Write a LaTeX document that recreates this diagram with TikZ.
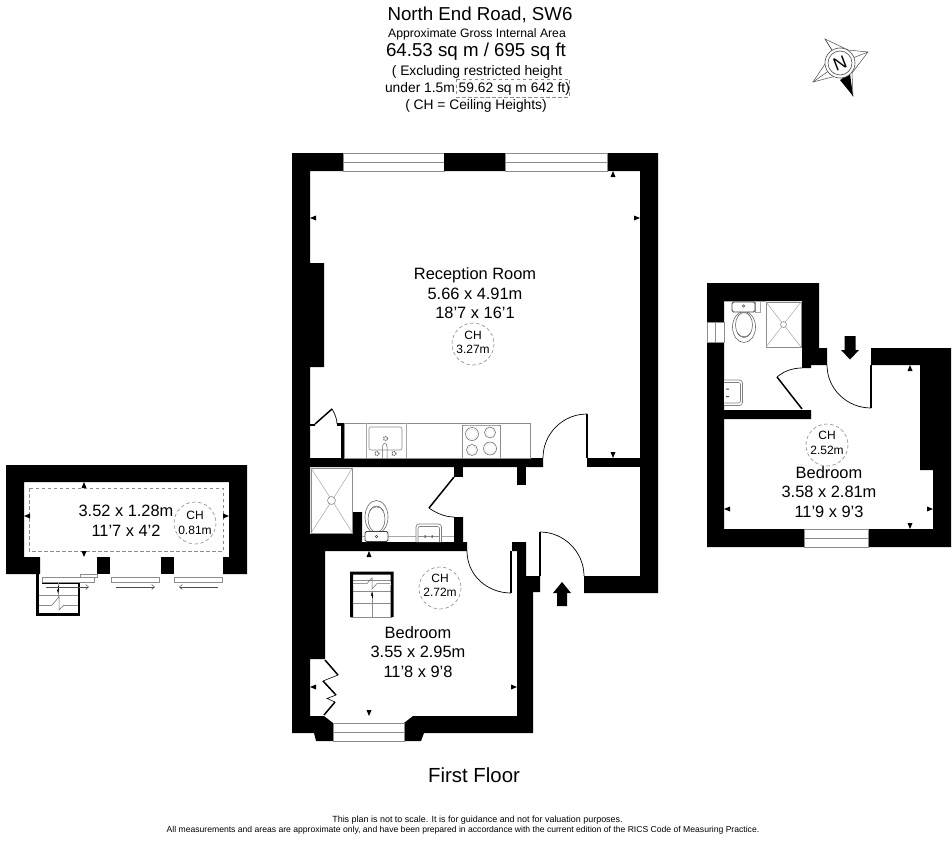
\documentclass[tikz,border=0pt]{standalone}
\usepackage{fontspec}
\usetikzlibrary{arrows.meta}
\setmainfont{Liberation Sans}
\tikzset{
  wall/.style={fill=black,draw=none},
  fixture/.style={draw=black!45,line width=0.6pt,fill=white},
  fixlight/.style={draw=black!35,line width=0.5pt},
  glass/.style={draw=black!45,line width=0.6pt,fill=white},
  swing/.style={draw=black,line width=0.7pt},
  leaf/.style={draw=black,line width=1.5pt},
  thin stroke/.style={draw=black,line width=0.6pt},
  ceil/.style={draw=black!45,line width=0.6pt,dash pattern=on 3.5pt off 2.5pt},
  room/.style={anchor=base,inner sep=0pt,font=\fontsize{16.4}{16.4}\selectfont},
  chtxt/.style={anchor=base,inner sep=0pt,font=\fontsize{12}{12}\selectfont},
  big/.style={anchor=base,inner sep=0pt,font=\fontsize{18.7}{18.7}\selectfont},
  mid/.style={anchor=base,inner sep=0pt,font=\fontsize{13.8}{13.8}\selectfont},
  small/.style={anchor=base,inner sep=0pt,font=\fontsize{12.2}{12.2}\selectfont},
}
% tiny dimension tick: triangle with its tip at #1,#2, opening in direction dx=#3, dy=#4
\newcommand{\tick}[4]{\fill[black] (#1,#2) -- ++({(#3)*6+(#4)*2.5},{(#4)*6+(#3)*2.5}) -- ++({-(#4)*5},{-(#3)*5}) -- cycle;}
\newcommand{\wrect}[4]{\fill[wall] (#1,#2) rectangle (#3,#4);}
\begin{document}
\begin{tikzpicture}[x=1pt,y=-1pt]
\useasboundingbox (0,0) rectangle (952,840);
\fill[white] (0,0) rectangle (952,840);

% ---------- main flat walls
\fill[wall] (292,153) -- (658,153) -- (658,593) -- (584,593) -- (584,576) -- (640,576) -- (640,171) -- (310,171)
  -- (310,263) -- (324,263) -- (324,367) -- (310,367) -- (310,458) -- (543,458) -- (543,467) -- (310,467)
  -- (310,534) -- (353,534) -- (353,512) -- (362,512) -- (362,542) -- (454,542) -- (454,517) -- (463,517) -- (463,542)
  -- (467,542) -- (467,551) -- (325,551) -- (325,659) -- (310,659) -- (310,716) -- (324,716) -- (333,723) -- (333,741)
  -- (316,741) -- (314,733) -- (292,733) -- cycle;
\wrect{587}{458}{640}{467}
\wrect{454}{467}{463}{477}
\wrect{517}{467}{526}{485}
\fill[wall] (512,542) -- (526,542) -- (526,576) -- (540,576) -- (540,592) -- (533,592) -- (533,733) -- (424,733)
  -- (421,741) -- (404,741) -- (404,723) -- (413,716) -- (517,716) -- (517,551) -- (512,551) -- cycle;

% windows main
\foreach \a/\b in {343/444,505/607}{
  \draw[glass] (\a,153.3) rectangle (\b,171);
  \draw[fixlight,draw=black!45] (\a,162) -- (\b,162);
}
\fill[wall] (444,153) rectangle (505,171);
\draw[glass] (333,723) rectangle (404,741);
\draw[fixlight,draw=black!45] (333,732) -- (404,732);

% reception door
\draw[swing] (587,414) .. controls (562.7,414) and (543,433.7) .. (543,458);
\draw[black,line width=1.2pt] (587,414) -- (587,458);
% cupboard by reception
\wrect{310}{423.5}{315}{425.5}
\wrect{337}{423}{344}{425.5}
\wrect{341}{423}{344}{458}
\draw[leaf] (315,424) -- (332,409);
\draw[swing] (332,409) .. controls (335,414) and (337,419) .. (337,424);

% kitchen
\draw[fixture] (344,423) rectangle (530,458);
\draw[fixlight] (366,423) -- (366,458) (406,423) -- (406,458);
\draw[fixture,rounded corners=2pt] (369,427) -- (402,427) -- (402,450) -- (369,450) -- cycle;
\draw[fixlight,draw=black!60] (382.5,458) -- (382.5,447) .. controls (382.5,442) and (387,442) .. (387,447) -- (387,458);
\foreach \p in {(377,453.5),(385.5,438.5),(394,453.5)}{
  \draw[draw=black!55,line width=1.2pt,densely dotted] \p circle (2);
}
\draw[fixture] (462,425) rectangle (500,458);
\draw[fixlight] (464,425) -- (498,425);
\foreach \px/\py/\r in {472/434/6.5,490/432.5/5.5,472/450/5.5,490/448.5/6.5}{
  \draw[draw=black!55,line width=0.6pt] (\px,\py) circle (\r);
  \draw[draw=black!30,line width=0.3pt,densely dotted] (\px,\py) circle (\r-1.5);
}

% hall door to bathroom
\draw[leaf] (454,477) -- (429,508);
\draw[swing] (429,508) .. controls (436,513) and (445,517) .. (454,517);

% shower
\draw[fixture] (311,468) rectangle (352.5,533);
\draw[fixlight] (311,468) -- (332,500.5) (352.5,468) -- (332,500.5) (311,533) -- (332,500.5) (352.5,533) -- (332,500.5);
\draw[fixture] (331.5,500.5) circle (4);
% counter line
\draw[fixlight] (362,536) -- (454,536);
% wc
\draw[fixture,draw=black!60] (376.5,517) ellipse (11.5 and 16.5);
\draw[fixture,draw=black!60] (376.5,519) ellipse (8.5 and 13);
\draw[black!60,line width=0.5pt] (369.5,511) .. controls (372,505.5) and (381,505.5) .. (383.5,511);
\draw[fill=white,draw=black!75,line width=0.9pt,rounded corners=1.5pt] (365,531.5) rectangle (388,541.5);
\draw[black!70,line width=0.5pt] (376.5,536.5) circle (1.2);
% basin
\draw[fixture,rounded corners=3pt,draw=black!50,line width=0.7pt] (416,542) -- (416,524) -- (441.5,524) -- (441.5,542);
\draw[rounded corners=2pt,draw=black!50,line width=0.6pt] (418,542) -- (418,526.5) -- (439.5,526.5) -- (439.5,542);
\draw[black!45,line width=0.5pt] (418,536) -- (439.5,536);
\fill[black!70] (424.5,535) rectangle (425.7,538) (431.5,535) rectangle (432.7,538);

% bedroom door
\draw[swing] (467,551) .. controls (467,575) and (487,593) .. (511,593);
\draw[black,line width=1.2pt] (511,551) -- (511,593);
% entrance door
\draw[swing] (540,532) .. controls (564,532) and (584,552) .. (584,576);
\draw[black,line width=1.2pt] (540,532) -- (540,576);
% entrance arrow
\fill[black] (562,582) -- (571,593) -- (567,593) -- (567,606) -- (557,606) -- (557,593) -- (553,593) -- cycle;

% stairs
\draw[fixlight,draw=black!45] (351,580) -- (392,580) (351,591) -- (392,591) (351,603.5) -- (392,603.5) (351,617) -- (392,617);
\draw[fixlight,draw=black!45] (372,591) -- (372,617);
\fill[wall] (350,571.5) rectangle (393.5,574.5) (350,571.5) rectangle (353,617) (390.5,571.5) rectangle (393.5,617);
\fill[white] (353,581.5) rectangle (390.5,585);
\draw[fixlight,draw=black!60] (353,583.5) -- (367,583.5) -- (372,578) -- (372,589) -- (377,583.5) -- (390.5,583.5);
\draw[black,line width=0.5pt,-{Latex[length=4pt,width=2.5pt]}] (372,598) -- (372,591.5);

% bifold wardrobe
\draw[leaf] (325,660) -- (338,675);
\draw[thin stroke] (338,675) -- (323,681);
\draw[leaf] (323,681) -- (336,695);
\draw[thin stroke] (336,695) -- (327,698.5) -- (335,702);
\draw[leaf] (335,702) -- (324,715);

% ---------- annex on the right
\fill[wall] (707,283) -- (819,283) -- (819,348) -- (827,348) -- (827,365) -- (811,365) -- (811,368) -- (802,368) -- (802,301)
  -- (724,301) -- (724,410) -- (802,410) -- (811,410) -- (811,419) -- (724,419) -- (724,529) -- (804,529) -- (804,547)
  -- (707,547) -- cycle;
\fill[wall] (871,348) -- (951,348) -- (951,547) -- (868,547) -- (868,529) -- (933,529) -- (933,470) -- (920,470)
  -- (920,365) -- (871,365) -- cycle;
\draw[glass] (707,322) rectangle (724,342);
\draw[fixlight,draw=black!45] (715.5,322) -- (715.5,342);
\draw[glass] (804,529) rectangle (868,547);
\draw[fixlight,draw=black!45] (804,538) -- (868,538);
% annex entrance door
\draw[swing] (827,365) .. controls (827,389) and (847,408) .. (871,408);
\draw[black,line width=1.2pt] (871,365) -- (871,408);
\fill[black] (850,359.5) -- (841,350) -- (844.5,350) -- (844.5,336) -- (855.5,336) -- (855.5,350) -- (859,350) -- cycle;
% annex bath door
\draw[leaf] (802,409) -- (777,377);
\draw[swing] (777,377) .. controls (784,371) and (793,368) .. (802,368);
% annex shower
\draw[fixture] (766,302) rectangle (801,347);
\draw[fixlight] (766,302) -- (783.5,324.5) (801,302) -- (783.5,324.5) (766,347) -- (783.5,324.5) (801,347) -- (783.5,324.5);
\draw[fixture] (783.5,324.5) circle (3);
\draw[fixlight] (724,301.5) -- (766,301.5) (755,301.5) -- (755,312) -- (760,312) -- (760,301.5);
% annex wc
\draw[fixture,draw=black!60] (744,327) ellipse (11.5 and 15.5);
\draw[fixture,draw=black!60] (744,325) ellipse (8.5 and 12.5);
\draw[black!60,line width=0.5pt] (737.5,333) .. controls (740,338) and (748,338) .. (750.5,333);
\draw[fill=white,draw=black!75,line width=0.9pt,rounded corners=1.5pt] (732,302) rectangle (755,312);
\draw[black!70,line width=0.5pt] (743.5,306) circle (1.2);
% annex basin
\draw[fixture,rounded corners=3pt,draw=black!50,line width=0.7pt] (724,380) -- (742.5,380) -- (742.5,405.5) -- (724,405.5);
\draw[rounded corners=2pt,draw=black!50,line width=0.6pt] (724,382.5) -- (740.5,382.5) -- (740.5,403) -- (724,403);
\fill[black!70] (726,388.5) rectangle (729,389.7) (726,396) rectangle (729,397.2);

% ---------- left structure
\fill[wall] (6,465) -- (247,465) -- (247,574) -- (223,574) -- (223,557) -- (229,557) -- (229,482) -- (24,482) -- (24,557)
  -- (40,557) -- (40,574) -- (6,574) -- cycle;
\wrect{97}{557}{110}{574}
\wrect{161}{557}{174}{574}
\draw[ceil] (29,488) rectangle (223,551);
% left stairs
\draw[fixlight,draw=black!45] (38,595) -- (79,595) (38,605) -- (52,605) (64,605) -- (79,605);
\draw[black,line width=2.2pt] (42,582.5) -- (79,582.5) -- (79,614.5) -- (37.5,614.5) -- (37.5,574);
\draw[draw=black!60,line width=0.5pt] (52,605) -- (59,597) -- (59,610) -- (64,605);
\draw[black!45,line width=0.4pt] (58,583) -- (58,597);
\draw[black,line width=0.5pt,-{Latex[length=4pt,width=2.5pt]}] (58,586) -- (58,593.5);
% sliding doors
\foreach \a/\b in {42/94,111/159,174/222}{\draw[fixture,line width=0.7pt] (\a,577) rectangle (\b,582);}
\draw[black!45,line width=0.4pt] (80,574) rectangle (97,577);
\draw[black!70,line width=0.5pt,-{Straight Barb[length=3pt,width=5pt]}] (46,587) -- (89,587);
\draw[black!70,line width=0.5pt,-{Straight Barb[length=3pt,width=5pt]}] (116,587) -- (155,587);
\draw[black!70,line width=0.5pt,-{Straight Barb[length=3pt,width=5pt]}] (218,587) -- (179,587);

% dimension ticks
\tick{613}{171}{0}{1}
\tick{310}{218}{1}{0}
\tick{640}{218}{-1}{0}
\tick{613}{458}{0}{-1}
\tick{369}{551}{0}{1}
\tick{310}{687}{1}{0}
\tick{517}{687}{-1}{0}
\tick{369}{716}{0}{-1}
\tick{910}{365}{0}{1}
\tick{910}{529}{0}{-1}
\tick{724}{509}{1}{0}
\tick{933}{509}{-1}{0}
\tick{84}{482}{0}{1}
\tick{84}{557}{0}{-1}
\tick{24}{516}{1}{0}
\tick{229}{516}{-1}{0}

% ceiling height circles
\draw[ceil] (473,344) circle (21);
\draw[ceil] (440,588) circle (21);
\draw[ceil] (827,445) circle (21);
\draw[ceil] (195,523) circle (21);

% room labels
\node[room] (r1a) at (475,279) {Reception Room};
\node[room] (r1b) at (475,299) {5.66 x 4.91m};
\node[room] (r1c) at (475,318) {18'7 x 16'1};
\node[chtxt] (c1a) at (473,339) {CH};
\node[chtxt] (c1b) at (473,353) {3.27m};
\node[room] (r2a) at (418,638) {Bedroom};
\node[room] (r2b) at (418,657) {3.55 x 2.95m};
\node[room] (r2c) at (418,677) {11'8 x 9'8};
\node[chtxt] (c2a) at (440,582) {CH};
\node[chtxt] (c2b) at (440,596) {2.72m};
\node[room] (r3a) at (829,478) {Bedroom};
\node[room] (r3b) at (829,497) {3.58 x 2.81m};
\node[room] (r3c) at (829,517) {11'9 x 9'3};
\node[chtxt] (c3a) at (827,439) {CH};
\node[chtxt] (c3b) at (827,454) {2.52m};
\node[room] (r4a) at (126,516) {3.52 x 1.28m};
\node[room] (r4b) at (126,536) {11'7 x 4'2};
\node[chtxt] (c4a) at (195,519) {CH};
\node[chtxt] (c4b) at (195,534) {0.81m};

% heading
\node[big] (t1) at (480,20.5) {North End Road, SW6};
\node[small] (t2) at (477,37.5) {Approximate Gross Internal Area};
\node[big] (t3) at (476,57) {64.53 sq m / 695 sq ft};
\node[mid] (t4) at (477,76) {( Excluding restricted height};
\node[mid] (t5) at (477.5,92.5) {under 1.5m 59.62 sq m 642 ft)};
\node[mid] (t6) at (476,109.5) {( CH = Ceiling Heights)};
\draw[ceil,line width=0.5pt] (456,79) rectangle (569,97);
\node[anchor=base,inner sep=0pt,font=\fontsize{20.4}{20.4}\selectfont] (ff) at (474,782) {First Floor};
\node[anchor=base,inner sep=0pt,font=\fontsize{8.95}{8.95}\selectfont] (f1) at (477.5,822) {This plan is not to scale. It is for guidance and not for valuation purposes.};
\node[anchor=base,inner sep=0pt,font=\fontsize{8.6}{8.6}\selectfont] (f2) at (463,832.5) {All measurements and areas are approximate only, and have been prepared in accordance with the current edition of the RICS Code of Measuring Practice.};

% compass
\draw[fixture,draw=black!70,line width=0.5pt] (825,39) -- (833,52) -- (813,82) -- (840,75) -- (853,96) -- (852,73) -- (868,52) -- (848,50) -- cycle;
\draw[black!70,line width=0.5pt] (825,39) -- (840,63) -- (813,82) (868,52) -- (840,63) -- (853,96);
\fill[black] (853,96) -- (840,80) -- (850,74) -- cycle;
\draw[black!70,line width=0.6pt,fill=white] (840,63) circle (15);
\draw[black!70,line width=0.6pt] (840,63) circle (12);
\node[anchor=center,inner sep=0pt,rotate=21,font=\fontsize{18}{18}\selectfont] (north) at (840,63) {N};
\end{tikzpicture}
\end{document}
